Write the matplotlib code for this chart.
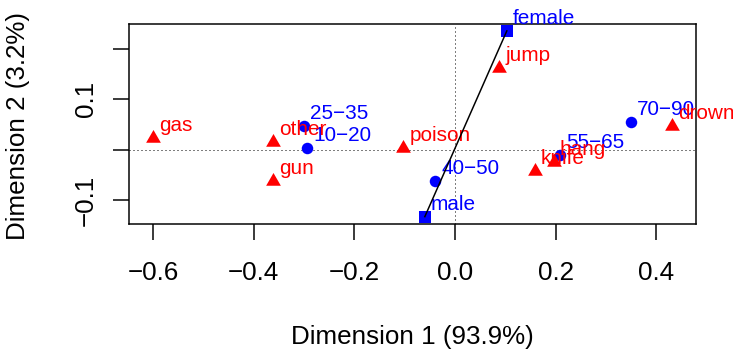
import numpy as np
import matplotlib
matplotlib.use('Agg')
import matplotlib.pyplot as plt
from matplotlib.path import Path

plt.rcParams['font.family'] = ['Liberation Sans', 'DejaVu Sans']

# age groups (rows)
age_labels = ['10\u221220', '25\u221235', '40\u221250', '55\u221265', '70\u221290']
age_x = [-0.294, -0.300, -0.039, 0.209, 0.350]
age_y = [0.004, 0.047, -0.062, -0.011, 0.055]

# sex (supplementary rows)
sex_labels = ['male', 'female']
sex_x = [-0.060, 0.103]
sex_y = [-0.133, 0.236]

# methods (columns)
method_labels = ['gas', 'other', 'gun', 'poison', 'jump', 'knife', 'hang', 'drown']
method_x = [-0.600, -0.361, -0.361, -0.103, 0.088, 0.158, 0.196, 0.431]
method_y = [0.024, 0.016, -0.062, 0.003, 0.163, -0.042, -0.025, 0.047]

xticks = [-0.6, -0.4, -0.2, 0.0, 0.2, 0.4]
yticks = [-0.1, 0.0, 0.1, 0.2]
ytick_labels = ['\u22120.1', '', '0.1', '']

BLUE = '#0000FF'
RED = '#FF0000'

# R style filled triangle (pch 17), centroid at the data point
tri = Path([(0, 1.555), (1.347, -0.778), (-1.347, -0.778), (0, 1.555)],
           [Path.MOVETO, Path.LINETO, Path.LINETO, Path.CLOSEPOLY])

fig = plt.figure(figsize=(733/144, 349/144), dpi=144)
ax = fig.add_axes([129/733, 1-224/349, 567/733, 200/349])

ax.axhline(0, color='black', lw=0.5, ls=(0, (1, 3)), zorder=1)
ax.axvline(0, color='black', lw=0.5, ls=(0, (1, 3)), zorder=1)

def label_points(xs, ys, labels, col, z):
    for x, y, s in zip(xs, ys, labels):
        ax.annotate(s, (x, y), xytext=(3, 3.5), textcoords='offset points',
                    color=col, fontsize=10.4, ha='left', va='baseline',
                    annotation_clip=False, zorder=z)

ax.plot(age_x, age_y, 'o', color=BLUE, ms=5.75, mew=0, clip_on=False, zorder=3)
ax.plot(sex_x, sex_y, 's', color=BLUE, ms=5.75, mew=0, clip_on=False, zorder=3)
label_points(age_x, age_y, age_labels, BLUE, 4)
label_points(sex_x, sex_y, sex_labels, BLUE, 4)

ax.plot(method_x, method_y, ls='none', marker=tri, color=RED, ms=8.5, mew=0,
        clip_on=False, zorder=5)
label_points(method_x, method_y, method_labels, RED, 6)

# line joining male and female
ax.plot(sex_x, sex_y, color='black', lw=0.75, zorder=7, clip_on=False)

ax.set_xlim(-0.648, 0.479)
ax.set_ylim(-0.1476, 0.2497)

ax.set_xticks(xticks)
ax.set_xticklabels([('%.1f' % v).replace('-', '\u2212') for v in xticks])
ax.set_yticks(yticks)
ax.set_yticklabels(ytick_labels)
ax.tick_params(direction='out', length=8, width=0.75, labelsize=13, color='black')
ax.tick_params(axis='x', pad=10.5)
ax.tick_params(axis='y', pad=7.5)
plt.setp(ax.get_yticklabels(), rotation=90, va='center', ha='right')

for sp in ax.spines.values():
    sp.set_linewidth(0.75)

ax.set_xlabel('Dimension 1 (93.9%)', fontsize=13)
ax.set_ylabel('Dimension 2 (3.2%)', fontsize=13)
ax.xaxis.set_label_coords(0.5, (224-337)/200)
ax.xaxis.label.set_va('center')
ax.yaxis.set_label_coords((18-129)/567, 0.49)
ax.yaxis.label.set_va('center')
ax.yaxis.label.set_ha('center')

fig.savefig('out.png', dpi=144)
